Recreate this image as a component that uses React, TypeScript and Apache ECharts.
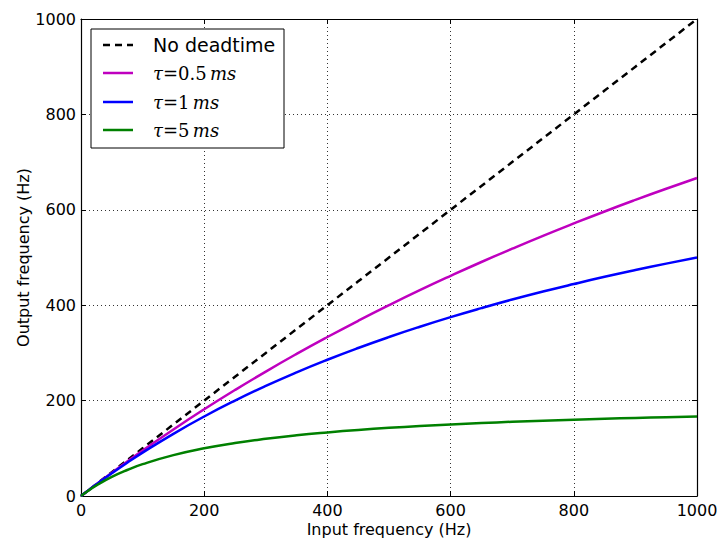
import React, { useEffect, useRef } from "react";
import * as echarts from "echarts";

const inputFreq = [0, 10, 25, 50, 75, 100, 150, 200, 250, 300, 350, 400, 450, 500, 550, 600, 650, 700, 750, 800, 850, 900, 950, 1000];
const noDeadtime = [0, 10, 25, 50, 75, 100, 150, 200, 250, 300, 350, 400, 450, 500, 550, 600, 650, 700, 750, 800, 850, 900, 950, 1000];
const tau05 = [0, 9.95, 24.7, 48.8, 72.3, 95.2, 139.5, 181.8, 222.2, 260.9, 297.9, 333.3, 367.3, 400, 431.4, 461.5, 490.6, 518.5, 545.5, 571.4, 596.5, 620.7, 644.1, 666.7];
const tau1 = [0, 9.9, 24.4, 47.6, 69.8, 90.9, 130.4, 166.7, 200, 230.8, 259.3, 285.7, 310.3, 333.3, 354.8, 375, 393.9, 411.8, 428.6, 444.4, 459.5, 473.7, 487.2, 500];
const tau5 = [0, 9.5, 22.2, 40, 54.5, 66.7, 85.7, 100, 111.1, 120, 127.3, 133.3, 138.5, 142.9, 146.7, 150, 152.9, 155.6, 157.9, 160, 161.9, 163.6, 165.2, 166.7];

const seriesNames = ["No deadtime", "τ=0.5 ms", "τ=1 ms", "τ=5 ms"];
const seriesColors = ["#000000", "#bf00bf", "#0000ff", "#008000"];

const pairs = (ys: number[]) => inputFreq.map((x, i) => [x, ys[i]]);

export default function App() {
  const ref = useRef<HTMLDivElement>(null);
  useEffect(() => {
    if (!ref.current) return;
    const chart = echarts.init(ref.current, undefined, { renderer: "svg" });
    const font = "DejaVu Sans";
    const gridLine = { show: true, lineStyle: { color: "#333", width: 1, type: [1, 3] as any } };
    const baseAxis = {
      min: 0,
      max: 1000,
      interval: 200,
      axisLine: { show: true, onZero: false, lineStyle: { color: "#000", width: 1.2 } },
      axisTick: { show: true, inside: true, length: 5, lineStyle: { color: "#000", width: 1 } },
    };
    const legendRows = [45, 73, 102, 130];
    const legendElems: any[] = [
      {
        type: "rect",
        shape: { x: 91, y: 29, width: 193, height: 119 },
        style: { fill: "#fff", stroke: "#000", lineWidth: 1 },
        z: 100,
      },
    ];
    legendRows.forEach((y, i) => {
      legendElems.push({
        type: "line",
        shape: { x1: 103, y1: y, x2: 133, y2: y },
        style: { stroke: seriesColors[i], lineWidth: 2.5, lineDash: i === 0 ? [7, 5] : null },
        z: 101,
      });
      if (i === 0) {
        legendElems.push({
          type: "text",
          x: 153,
          y: y,
          style: { text: seriesNames[0], fontFamily: font, fontSize: 19, fill: "#000", verticalAlign: "middle" },
          z: 101,
        });
      } else {
        const num = ["", "0.5", "1", "5"][i];
        legendElems.push({
          type: "text",
          x: 153,
          y: y,
          z: 101,
          style: {
            text: `{i|τ}{u|=${num}} {i|ms}`,
            rich: {
              i: { fontFamily: "DejaVu Serif", fontStyle: "italic", fontSize: 18, fill: "#000" },
              u: { fontFamily: "DejaVu Serif", fontSize: 18, fill: "#000" },
            },
            verticalAlign: "middle",
          },
        });
      }
    });

    const lineSeries = (idx: number, ys: number[]) => ({
      name: seriesNames[idx],
      type: "line",
      data: pairs(ys),
      showSymbol: false,
      smooth: true,
      xAxisIndex: 0,
      yAxisIndex: 0,
      lineStyle: { color: seriesColors[idx], width: 2.5 },
      itemStyle: { color: seriesColors[idx] },
      z: 3 + idx,
    });
    const fmt = (v: number) => String(v);

    chart.setOption({
      animation: false,
      backgroundColor: "#fff",
      grid: { left: 81, right: 21, top: 19, bottom: 42, containLabel: false, outerBoundsMode: "none" },
      xAxis: [
        {
          ...baseAxis,
          type: "value",
          position: "bottom",
          name: "Input frequency (Hz)",
          nameLocation: "middle",
          nameMoveOverlap: false,
          nameGap: 25,
          nameTextStyle: { fontFamily: font, fontSize: 16, color: "#000" },
          axisLabel: { fontFamily: font, fontSize: 16, color: "#000", margin: 6, formatter: fmt },
          splitLine: gridLine,
        },
        {
          ...baseAxis,
          type: "value",
          position: "top",
          axisLabel: { show: false },
          splitLine: { show: false },
        },
      ],
      yAxis: [
        {
          ...baseAxis,
          type: "value",
          position: "left",
          name: "Output frequency (Hz)",
          nameLocation: "middle",
          nameMoveOverlap: false,
          nameGap: 50,
          nameTextStyle: { fontFamily: font, fontSize: 16, color: "#000" },
          axisLabel: { fontFamily: font, fontSize: 16, color: "#000", margin: 5, formatter: fmt },
          splitLine: gridLine,
        },
        {
          ...baseAxis,
          type: "value",
          position: "right",
          axisLabel: { show: false },
          splitLine: { show: false },
        },
      ],
      series: [
        {
          name: seriesNames[0],
          type: "line",
          data: pairs(noDeadtime),
          showSymbol: false,
          lineStyle: { color: seriesColors[0], width: 2.5, type: [7, 5] as any },
          itemStyle: { color: seriesColors[0] },
          z: 3,
        },
        lineSeries(1, tau05),
        lineSeries(2, tau1),
        lineSeries(3, tau5),
      ],
      graphic: legendElems,
    });
    return () => chart.dispose();
  }, []);
  return <div ref={ref} style={{ width: 718, height: 538, position: "absolute", left: 0, top: 0 }} />;
}
